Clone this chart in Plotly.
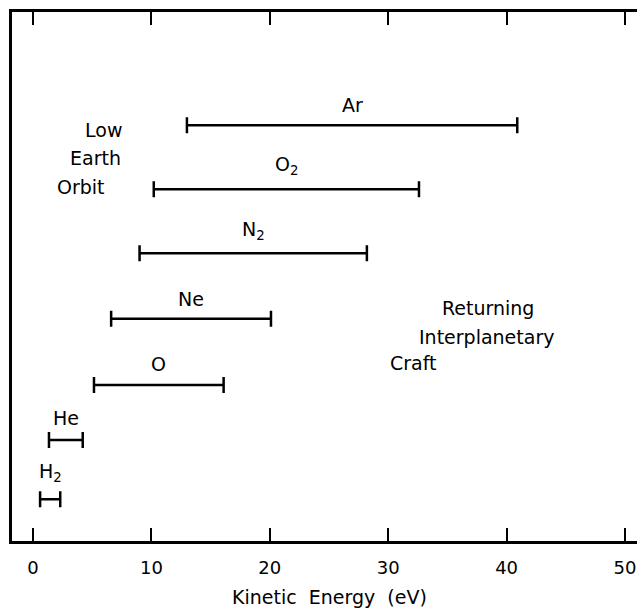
import plotly.graph_objects as go

species = ["Ar", "O<sub>2</sub>", "N<sub>2</sub>", "Ne", "O", "He", "H<sub>2</sub>"]
e_low = [13.0, 10.2, 9.0, 6.6, 5.15, 1.35, 0.6]
e_high = [40.9, 32.6, 28.2, 20.1, 16.1, 4.2, 2.3]
levels = [7.86, 6.65, 5.44, 4.20, 2.95, 1.91, 0.79]
label_shift = [20, 24, 23, 20, 21, 22, 27]
x_ticks = [0, 10, 20, 30, 40, 50]

centers = [(a + b) / 2 for a, b in zip(e_low, e_high)]
FONT = "DejaVu Sans, Verdana, sans-serif"
FS = 19

fig = go.Figure()
fig.add_trace(go.Scatter(
    x=centers, y=levels, mode="markers",
    marker=dict(size=1, color="rgba(0,0,0,0)"),
    error_x=dict(type="data", symmetric=False,
                 array=[h - c for h, c in zip(e_high, centers)],
                 arrayminus=[c - l for c, l in zip(centers, e_low)],
                 color="black", thickness=2.5, width=8),
    showlegend=False, hoverinfo="skip"))

for s, c, lv, sh in zip(species, centers, levels, label_shift):
    fig.add_annotation(x=c, y=lv, text=s, showarrow=False, yshift=sh,
                       font=dict(size=FS, color="black", family=FONT))

# free text; positions given in page pixels, converted to paper coords
# (plot area: l=12, r=0, t=12, b=67)
notes = [("Low", 83, 130), ("Earth", 68, 158), ("Orbit", 55, 187),
         ("Returning", 440, 308), ("Interplanetary", 417, 337), ("Craft", 388, 363)]
for t, px, py in notes:
    fig.add_annotation(x=(px - 12) / 625, y=(541 - py) / 529, xref="paper", yref="paper",
                       text=t, showarrow=False, xanchor="left", yanchor="middle",
                       font=dict(size=FS, color="black", family=FONT))

fig.add_annotation(x=(329 - 12) / 625, y=(541 - 597) / 529, xref="paper", yref="paper",
                   text="Kinetic\u00a0 Energy\u00a0 (eV)", showarrow=False,
                   xanchor="center", yanchor="middle",
                   font=dict(size=FS, color="black", family=FONT))

x0 = (12 - 33) / 11.84
x1 = (637 - 33) / 11.84
fig.update_xaxes(range=[x0, x1], tickvals=x_ticks, ticktext=[str(v) for v in x_ticks],
                 showgrid=False, zeroline=False, showline=True, linecolor="black", linewidth=3,
                 mirror="allticks", ticks="inside", ticklen=13, tickwidth=2, tickcolor="black",
                 ticklabelstandoff=8,
                 tickfont=dict(size=18, color="black", family=FONT))
fig.update_yaxes(range=[0, 10], showgrid=False, zeroline=False, showline=True,
                 linecolor="black", linewidth=3, showticklabels=False, ticks="")

fig.update_layout(width=637, height=608, margin=dict(l=12, r=0, t=12, b=67),
                  plot_bgcolor="white", paper_bgcolor="white")
fig.write_html("out.html")
